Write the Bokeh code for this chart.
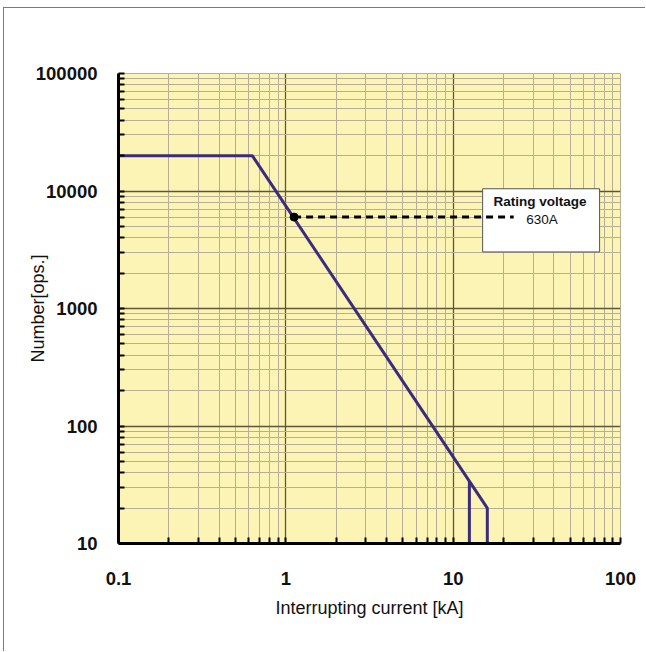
from bokeh.plotting import figure
from bokeh.models import FixedTicker, CustomJSTickFormatter, Range1d
from bokeh.core.properties import value
from bokeh.embed import file_html
from bokeh.resources import INLINE

# Data
curve_x = [0.1, 0.63, 16, 16]
curve_y = [20000, 20000, 20, 10]
branch_x = [12.5, 12.5]
branch_y = [34, 10]
rating_x = [1.12, 23]
rating_y = [6000, 6000]
legend_box = dict(left=[15], right=[75], top=[10450], bottom=[3030])
legend_title = "Rating voltage"
legend_sub = "630A"
legend_title_pos = (33, 8100)
legend_sub_pos = (34, 5700)

x_major = [0.1, 1, 10, 100]
y_major = [10, 100, 1000, 10000, 100000]
x_minor = [m * d for d in [0.1, 1, 10] for m in range(2, 10)]
y_minor = [m * d for d in [10, 100, 1000, 10000] for m in range(2, 10)]

p = figure(width=642, height=644, x_axis_type="log", y_axis_type="log",
           x_range=Range1d(0.1, 100), y_range=Range1d(10, 100000),
           output_backend="svg", toolbar_location=None,
           min_border_left=114, min_border_right=26,
           min_border_top=65, min_border_bottom=109)
p.styles = {"margin-left": "3px", "margin-top": "7px",
            "border-left": "1px solid #7a7a7a", "border-top": "1px solid #7a7a7a"}

p.background_fill_color = "#FCF4B4"
p.border_fill_color = "white"
p.outline_line_color = "#B8AE98"
p.outline_line_width = 1

# Axes
p.xaxis.ticker = FixedTicker(ticks=x_major, minor_ticks=x_minor)
p.yaxis.ticker = FixedTicker(ticks=y_major, minor_ticks=y_minor)
p.xaxis.formatter = CustomJSTickFormatter(code="return String(Math.round(tick*10)/10);")
p.yaxis.formatter = CustomJSTickFormatter(code="return String(Math.round(tick));")

for ax in (p.xaxis, p.yaxis):
    ax.axis_line_width = 3
    ax.axis_line_color = "black"
    ax.major_tick_in = 6
    ax.major_tick_out = 0
    ax.minor_tick_in = 6
    ax.minor_tick_out = 0
    ax.major_tick_line_width = 2
    ax.minor_tick_line_width = 2
    ax.major_tick_line_color = "black"
    ax.minor_tick_line_color = "black"
    ax.major_label_text_font = "Liberation Sans"
    ax.major_label_text_font_style = "bold"
    ax.major_label_text_font_size = "18.5px"
    ax.major_label_text_color = "#111111"
    ax.axis_label_text_font = "Liberation Sans"
    ax.axis_label_text_font_style = "normal"
    ax.axis_label_text_font_size = "18px"
    ax.axis_label_text_color = "#111111"

p.xaxis.axis_label = "Interrupting current [kA]"
p.yaxis.axis_label = "Number[ops.]"
p.xaxis.major_label_standoff = 28
p.xaxis.axis_label_standoff = 10
p.yaxis.major_label_standoff = 21
p.yaxis.axis_label_standoff = -15

# Grid
p.xgrid.ticker = FixedTicker(ticks=[1, 10], minor_ticks=x_minor)
p.ygrid.ticker = FixedTicker(ticks=[100, 1000, 10000], minor_ticks=y_minor)
for g in (p.xgrid, p.ygrid):
    g.grid_line_color = "#5E5638"
    g.grid_line_width = 1.3
    g.minor_grid_line_color = "#B8AE98"
    g.minor_grid_line_width = 1

# Legend box
p.quad(**legend_box, fill_color="white", line_color="#555555", line_width=1)

# Curves
p.line(curve_x, curve_y, line_color="#3B2C7E", line_width=3)
p.line(branch_x, branch_y, line_color="#3B2C7E", line_width=3)
p.line(rating_x, rating_y, line_color="black", line_width=3, line_dash="7 5")
p.scatter([rating_x[0]], [rating_y[0]], size=8, color="black")

p.text([legend_title_pos[0]], [legend_title_pos[1]], text=[legend_title],
       text_font=value("Liberation Sans"), text_font_style="bold",
       text_font_size="13.5px", text_align="center", text_baseline="middle",
       text_color="#111111")
p.text([legend_sub_pos[0]], [legend_sub_pos[1]], text=[legend_sub],
       text_font=value("Liberation Sans"), text_font_size="13.5px",
       text_align="center", text_baseline="middle", text_color="#111111")

open("out.html", "w").write(file_html(p, INLINE))
